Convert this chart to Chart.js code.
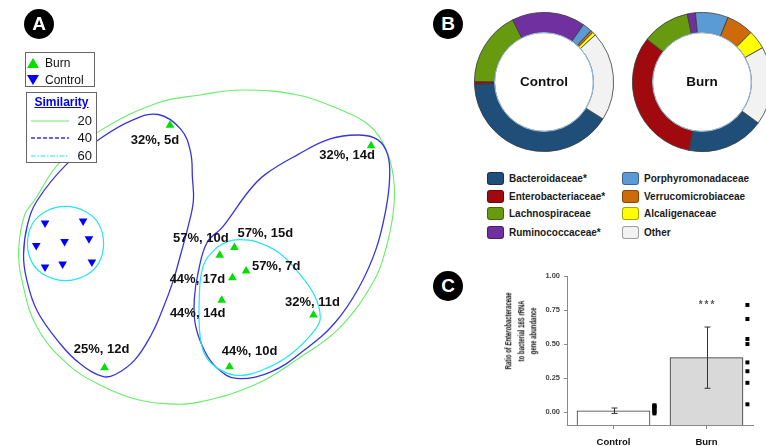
<!DOCTYPE html>
<html>
<head>
<meta charset="utf-8">
<title>Burn vs Control microbiota</title>
<script src="https://cdn.jsdelivr.net/npm/chart.js"></script>
<style>
  html, body { margin: 0; padding: 0; background: #fff; }
  body { width: 766px; height: 446px; position: relative; overflow: hidden; font-family: 'Liberation Sans', Arial, sans-serif; color: #111; }
  canvas, .abs { position: absolute; }
  .badge { position: absolute; width: 30px; height: 30px; border-radius: 50%; background: #000; color: #fff;
           font: bold 19px 'Liberation Sans', Arial, sans-serif; text-align: center; line-height: 30px; }
  .box { position: absolute; box-sizing: border-box; border: 1px solid #666; background: #fff; }
  .ktxt { position: absolute; font-size: 12px; line-height: 14px; white-space: nowrap; }
  .tri { position: absolute; width: 0; height: 0; border-left: 6px solid transparent; border-right: 6px solid transparent; }
  .tri.up { border-bottom: 10px solid #00E000; }
  .tri.down { border-top: 10px solid #0000FF; }
  .fam { position: absolute; font-size: 10px; font-weight: bold; line-height: 13px; white-space: nowrap; color: #1a1a1a; }
  .fam .sw { position: absolute; left: 0; top: 0; width: 17px; height: 13px; box-sizing: border-box; border-radius: 3px; border: 1px solid rgba(0,0,0,0.35); }
  .fam .nm { position: absolute; left: 22px; top: 0; }
  #ytitle { position: absolute; left: 521px; top: 331px; width: 140px; text-align: center; font-size: 9px; font-weight: bold;
            line-height: 12.5px; color: #111; transform: translate(-50%, -50%) rotate(-90deg) scaleX(0.66); white-space: nowrap; }
</style>
</head>
<body>

<canvas id="mds" width="420" height="446" style="left:0;top:0"></canvas>
<canvas id="ringControl" width="140" height="140" style="left:474px;top:12px"></canvas>
<canvas id="ringBurn" width="140" height="140" style="left:632px;top:12px"></canvas>
<canvas id="ratio" width="276" height="186" style="left:490px;top:260px"></canvas>

<div class="badge" style="left:24px;top:9px">A</div>
<div class="badge" style="left:433px;top:9px">B</div>
<div class="badge" style="left:433px;top:271px">C</div>

<!-- panel A key -->
<div class="box" style="left:25px;top:52px;width:70px;height:35px"></div>
<div class="tri up" style="left:27px;top:58px"></div><div class="ktxt" style="left:45px;top:56px">Burn</div>
<div class="tri down" style="left:27px;top:75px"></div><div class="ktxt" style="left:45px;top:73px">Control</div>

<div class="box" style="left:26px;top:92px;width:71px;height:71px"></div>
<div class="ktxt" style="left:26px;top:95px;width:71px;text-align:center;font-weight:bold;color:#0000EE;text-decoration:underline">Similarity</div>
<svg class="abs" style="left:31px;top:115px" width="40" height="46">
  <line x1="0" y1="6" x2="38" y2="6" stroke="#66EE66" stroke-width="1"/>
  <line x1="0" y1="23" x2="38" y2="23" stroke="#3333DD" stroke-width="1.5" stroke-dasharray="4 2"/>
  <line x1="0" y1="41" x2="38" y2="41" stroke="#22E5F0" stroke-width="1.2" stroke-dasharray="5 1.5 1.5 1.5"/>
</svg>
<div class="ktxt" style="left:66px;top:114px;width:26px;text-align:right;font-size:13px">20</div>
<div class="ktxt" style="left:66px;top:131px;width:26px;text-align:right;font-size:13px">40</div>
<div class="ktxt" style="left:66px;top:149px;width:26px;text-align:right;font-size:13px">60</div>

<!-- panel B key (filled from the family list) -->
<div id="famKey"></div>

<!-- panel C axis title -->
<div id="ytitle"><div>Ratio of <i>Enterobacteraceae</i></div><div>to bacterial 16S rRNA</div><div>gene abundance</div></div>

<script>
/* ---------- Data: panel A (MDS ordination) ---------- */
const burnLabels = ['32%, 5d', '32%, 14d', '57%, 10d', '57%, 15d', '57%, 7d', '44%, 17d', '44%, 14d', '32%, 11d', '44%, 10d', '25%, 12d'];
const burnX = [-0.41, 1.65, 0.10, 0.25, 0.37, 0.23, 0.12, 1.06, 0.20, -1.08];
const burnY = [1.00, 0.79, -0.33, -0.25, -0.49, -0.56, -0.79, -0.94, -1.47, -1.48];
const controlX = [-1.69, -1.30, -1.78, -1.49, -1.24, -1.69, -1.51, -1.21];
const controlY = [0.00, 0.02, -0.23, -0.19, -0.16, -0.45, -0.42, -0.40];

// similarity contours (closed outlines)
const sim20 = [[0.33, 1.36], [0.90, 1.31], [1.33, 1.16], [1.63, 1.00], [1.80, 0.76], [1.88, 0.46], [1.88, 0.13], [1.80, -0.27],
  [1.68, -0.59], [1.33, -1.07], [0.90, -1.39], [0.47, -1.65], [-0.10, -1.83], [-0.43, -1.85], [-0.77, -1.80], [-1.10, -1.67],
  [-1.43, -1.47], [-1.77, -1.07], [-1.93, -0.57], [-1.96, -0.27], [-1.90, 0.08], [-1.80, 0.23], [-1.53, 0.63], [-1.10, 0.96],
  [-0.53, 1.23], [-0.10, 1.31]];
const sim40Left = [[-0.53, 1.11], [-0.30, 0.96], [-0.20, 0.73], [-0.18, 0.46], [-0.17, 0.23], [-0.22, -0.02], [-0.30, -0.32],
  [-0.38, -0.60], [-0.48, -0.87], [-0.60, -1.14], [-0.77, -1.40], [-0.97, -1.55], [-1.10, -1.57], [-1.33, -1.44], [-1.53, -1.24],
  [-1.77, -0.90], [-1.88, -0.57], [-1.91, -0.32], [-1.87, -0.02], [-1.77, 0.23], [-1.47, 0.60], [-1.13, 0.86], [-0.80, 1.05]];
const sim40Right = [[1.53, 0.90], [1.72, 0.85], [1.82, 0.70], [1.84, 0.46], [1.80, 0.13], [1.70, -0.27], [1.52, -0.67],
  [1.28, -1.02], [0.98, -1.29], [0.63, -1.52], [0.27, -1.59], [0.08, -1.49], [-0.05, -1.32], [-0.15, -1.04], [-0.16, -0.77],
  [-0.12, -0.50], [-0.03, -0.20], [0.13, -0.04], [0.40, 0.33], [0.57, 0.50], [0.90, 0.70], [1.23, 0.86]];
const sim60Control = [[-1.48, 0.17], [-1.28, 0.12], [-1.14, -0.01], [-1.09, -0.21], [-1.14, -0.41], [-1.28, -0.54],
  [-1.48, -0.59], [-1.68, -0.54], [-1.82, -0.41], [-1.87, -0.21], [-1.82, -0.01], [-1.68, 0.12]];
const sim60Burn = [[0.30, -0.17], [0.47, -0.19], [0.70, -0.30], [0.90, -0.50], [1.07, -0.74], [1.13, -0.97], [1.07, -1.10],
  [0.83, -1.34], [0.57, -1.49], [0.30, -1.56], [0.10, -1.50], [-0.04, -1.37], [-0.10, -1.17], [-0.11, -0.77], [-0.07, -0.44],
  [0.05, -0.27], [0.18, -0.19]];

/* ---------- Data: panel B (family composition, %) ---------- */
const families = ['Bacteroidaceae*', 'Enterobacteriaceae*', 'Lachnospiraceae', 'Ruminococcaceae*',
  'Porphyromonadaceae', 'Verrucomicrobiaceae', 'Alcaligenaceae', 'Other'];
const controlShare = [40.6, 0.6, 17.5, 17.0, 2.2, 0.6, 0.8, 20.7];
const burnShare = [18.0, 32.5, 11.1, 1.9, 7.6, 6.3, 4.4, 18.2];

/* ---------- Data: panel C (qPCR ratio) ---------- */
const groups = ['Control', 'Burn'];
const ratioMean = [0.01, 0.40];
const ratioErr = [0.02, 0.225];
const controlDots = [-0.01, 0.0, 0.01, 0.02, 0.03, 0.04, 0.045, 0.05];
const burnDots = [0.787, 0.684, 0.537, 0.50, 0.365, 0.30, 0.215, 0.057];
const ratioTicks = [0, 0.25, 0.5, 0.75, 1.0];
const ratioFloor = -0.095;
const signif = '***';

/* ---------- Styling / layout ---------- */
const famColors = ['#1F4E79', '#A00A0E', '#679A0E', '#7030A0', '#5B9BD5', '#CD6A0A', '#FFFF00', '#F2F2F2'];
const tagShift = [[-15, 15], [-24, 10], [-19, -17], [31, -14], [30, -4], [-35, 2], [-24, 13], [-1, -12], [20, -15], [-3, -18]];
const keyRows = [172, 190, 207, 226];
const keyCols = [487, 622];
const dotShift = 0.44;

Chart.defaults.font.family = "'Liberation Sans', Arial, sans-serif";
Chart.defaults.animation = false;
Chart.defaults.responsive = false;
Chart.defaults.plugins.legend.display = false;
Chart.defaults.plugins.tooltip.enabled = false;

/* ---------- Panel A ---------- */
// closed smooth loop: wrap one point each side and hide the two wrap segments
function contour(pts, color, width) {
  const n = pts.length;
  const wrapped = [pts[n - 1], ...pts, pts[0], pts[1]].map(([x, y]) => ({ x, y }));
  const lastIdx = wrapped.length - 1;
  return {
    data: wrapped, showLine: true, pointRadius: 0, borderColor: color, borderWidth: width, tension: 0.4, fill: false,
    segment: { borderColor: c => (c.p0DataIndex === 0 || c.p1DataIndex === lastIdx) ? 'rgba(0,0,0,0)' : undefined }
  };
}

const burnTags = {
  id: 'burnTags',
  afterDatasetsDraw(chart) {
    const ctx = chart.ctx;
    const meta = chart.getDatasetMeta(0);
    ctx.save();
    ctx.font = "bold 13px 'Liberation Sans', Arial, sans-serif";
    ctx.fillStyle = '#111';
    ctx.textAlign = 'center';
    ctx.textBaseline = 'middle';
    meta.data.forEach((pt, i) => {
      const [dx, dy] = tagShift[i];
      ctx.fillText(burnLabels[i], pt.x + dx, pt.y + dy);
    });
    ctx.restore();
  }
};

new Chart(document.getElementById('mds'), {
  type: 'scatter',
  data: {
    datasets: [
      { label: 'Burn', data: burnX.map((x, i) => ({ x, y: burnY[i] })), pointStyle: 'triangle', pointRadius: 5,
        backgroundColor: '#00E000', borderColor: '#00E000', borderWidth: 0 },
      { label: 'Control', data: controlX.map((x, i) => ({ x, y: controlY[i] })), pointStyle: 'triangle', rotation: 180,
        pointRadius: 5, backgroundColor: '#0000FF', borderColor: '#0000FF', borderWidth: 0 },
      contour(sim60Burn, '#22E5F0', 1.2),
      contour(sim60Control, '#22E5F0', 1.2),
      contour(sim40Right, '#3535DD', 1.3),
      contour(sim40Left, '#3535DD', 1.3),
      contour(sim20, '#66EE66', 1.1)
    ]
  },
  options: {
    layout: { padding: 0 },
    scales: {
      x: { type: 'linear', display: false, min: -2.1, max: 2.1 },
      y: { type: 'linear', display: false, min: -2.23, max: 2.23 }
    }
  },
  plugins: [burnTags]
});

/* ---------- Panel B ---------- */
const ringTitle = {
  id: 'ringTitle',
  afterDatasetsDraw(chart, args, opts) {
    const arc = chart.getDatasetMeta(0).data[0];
    const ctx = chart.ctx;
    ctx.save();
    ctx.beginPath();
    ctx.arc(arc.x, arc.y, arc.innerRadius, 0, Math.PI * 2);
    ctx.strokeStyle = '#9DC3E6';
    ctx.lineWidth = 1;
    ctx.stroke();
    ctx.font = "bold 13.5px 'Liberation Sans', Arial, sans-serif";
    ctx.fillStyle = '#111';
    ctx.textAlign = 'center';
    ctx.textBaseline = 'middle';
    ctx.fillText(opts.text, arc.x, arc.y);
    ctx.restore();
  }
};

function ring(id, shares, start, title) {
  new Chart(document.getElementById(id), {
    type: 'doughnut',
    data: { labels: families, datasets: [{ data: shares, backgroundColor: famColors, borderColor: '#3a3a3a', borderWidth: 0.8 }] },
    options: { rotation: start, cutout: '71%', layout: { padding: 0 }, plugins: { ringTitle: { text: title } } },
    plugins: [ringTitle]
  });
}
ring('ringControl', controlShare, 122, 'Control');
ring('ringBurn', burnShare, 126, 'Burn');

const famKey = document.getElementById('famKey');
families.forEach((name, i) => {
  const el = document.createElement('div');
  el.className = 'fam';
  el.style.left = keyCols[Math.floor(i / 4)] + 'px';
  el.style.top = keyRows[i % 4] + 'px';
  el.innerHTML = '<span class="sw" style="background:' + famColors[i] + '"></span><span class="nm"></span>';
  el.querySelector('.nm').textContent = name;
  famKey.appendChild(el);
});

/* ---------- Panel C ---------- */
const whiskers = {
  id: 'whiskers',
  afterDatasetsDraw(chart) {
    const ctx = chart.ctx;
    const y = chart.scales.y;
    const bars = chart.getDatasetMeta(1).data;
    ctx.save();
    ctx.strokeStyle = '#333';
    ctx.lineWidth = 1;
    bars.forEach((bar, i) => {
      const x = Math.round(bar.x) + 0.5;
      const hi = y.getPixelForValue(ratioMean[i] + ratioErr[i]);
      const lo = y.getPixelForValue(ratioMean[i] - ratioErr[i]);
      ctx.beginPath();
      ctx.moveTo(x, hi); ctx.lineTo(x, lo);
      ctx.moveTo(x - 3, hi); ctx.lineTo(x + 3, hi);
      ctx.moveTo(x - 3, lo); ctx.lineTo(x + 3, lo);
      ctx.stroke();
    });
    const b = bars[1];
    ctx.fillStyle = '#555';
    ctx.font = "bold 10px 'Liberation Sans', Arial, sans-serif";
    ctx.letterSpacing = '2px';
    ctx.textAlign = 'center';
    ctx.textBaseline = 'middle';
    ctx.fillText(signif, b.x + 1, y.getPixelForValue(ratioMean[1] + ratioErr[1]) - 22);
    ctx.restore();
  }
};

const dots = [
  ...controlDots.map(v => ({ x: 0 + dotShift, y: v })),
  ...burnDots.map(v => ({ x: 1 + dotShift, y: v }))
];

new Chart(document.getElementById('ratio'), {
  type: 'bar',
  data: {
    datasets: [
      { type: 'scatter', data: dots, pointStyle: 'rect', pointRadius: 2.8, backgroundColor: '#000', borderWidth: 0 },
      { data: ratioMean.map((v, i) => ({ x: i, y: v })), base: ratioFloor, backgroundColor: ['#FFFFFF', '#D9D9D9'],
        borderColor: '#333', borderWidth: 1, grouped: false, barThickness: 73 }
    ]
  },
  options: {
    layout: { padding: { top: 16, right: 13, left: 0, bottom: 0 } },
    scales: {
      x: {
        type: 'linear', min: -0.5, max: 1.5, offset: false,
        afterBuildTicks: s => { s.ticks = groups.map((g, i) => ({ value: i })); },
        grid: { display: true, offset: false, drawOnChartArea: false, tickLength: 4, color: '#888' },
        border: { color: '#888' },
        ticks: { callback: v => groups[v], font: { size: 9.5, weight: 'bold' }, color: '#111', padding: 8 },
        afterFit: s => { s.height = 21; }
      },
      y: {
        min: ratioFloor, max: 1,
        afterBuildTicks: s => { s.ticks = ratioTicks.map(v => ({ value: v })); },
        ticks: { callback: v => v.toFixed(2), font: { size: 7.5, weight: 'bold' }, color: '#444', padding: 4 },
        grid: { drawOnChartArea: false, tickLength: 3, color: '#888' },
        border: { color: '#888' },
        afterFit: s => { s.width = 77; }
      }
    }
  },
  plugins: [whiskers]
});
</script>
</body>
</html>
